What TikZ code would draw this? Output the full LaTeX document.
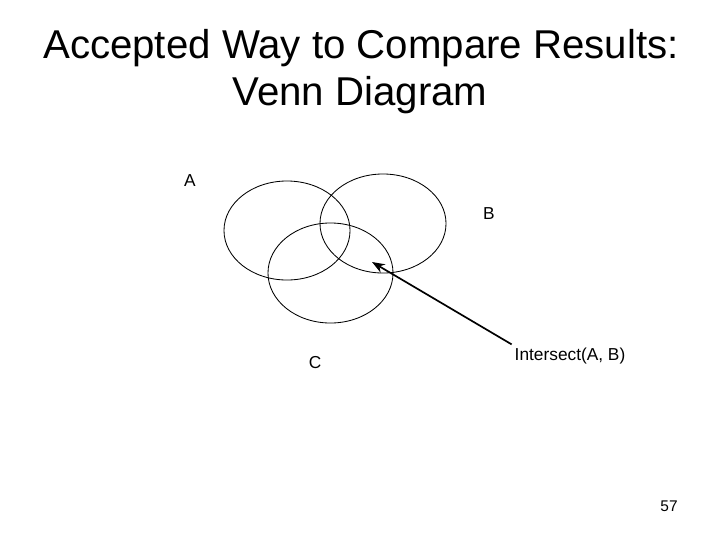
\documentclass[tikz,border=0pt]{standalone}
\usepackage{fontspec}
\setmainfont{Liberation Sans}
\usetikzlibrary{arrows.meta,shapes.geometric}
\definecolor{ink}{HTML}{000000}
\tikzset{
  vennset/.style={draw=ink,ellipse,line width=0.6pt,inner sep=0pt},
  titleline/.style={anchor=base,inner sep=0pt,font=\fontsize{28.6}{34}\selectfont},
  setlabel/.style={anchor=base,inner sep=0pt,font=\fontsize{12.3}{14}\selectfont},
  calllabel/.style={anchor=base,inner sep=2pt,font=\fontsize{12.3}{14}\selectfont},
  callarr/.style={-{Stealth[length=3.2mm,width=2.4mm]},line width=1.2pt,color=ink}
}

\begin{document}
\begin{tikzpicture}[x=0.025cm,y=-0.025cm]
  \useasboundingbox (0,0) rectangle (720,540);
  \fill[white] (0,0) rectangle (720,540);

  % title
  \node[titleline] (title1) at (361,58) {Accepted Way to Compare Results:};
  \node[titleline] (title2) at (360,105) {Venn Diagram};

  % the three sets
  \node[vennset,minimum width=3.15cm,minimum height=2.475cm] (setA) at (287,230.5) {};
  \node[vennset,minimum width=3.15cm,minimum height=2.475cm] (setB) at (383,223.5) {};
  \node[vennset,minimum width=3.125cm,minimum height=2.5cm] (setC) at (330.5,273) {};

  \node[setlabel] (labA) at (190,186) {A};
  \node[setlabel] (labB) at (489,219) {B};
  \node[setlabel] (labC) at (315,368) {C};

  % callout to A and B overlap
  \coordinate (abtip) at (372,262);
  \node[calllabel] (isect) at (570,360) {Intersect(A, B)};
  \draw[callarr] (isect.north west) -- (abtip);

  % page number
  \node[setlabel,font=\fontsize{11}{13}\selectfont] (pagenum) at (669,511) {57};
\end{tikzpicture}
\end{document}
